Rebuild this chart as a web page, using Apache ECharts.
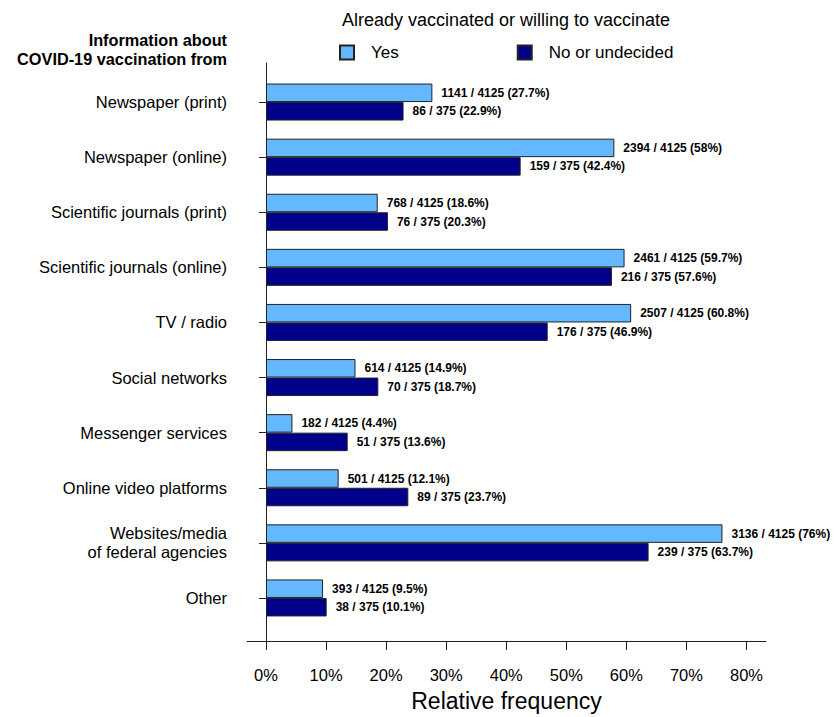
<!DOCTYPE html>
<html lang="en">
<head>
<meta charset="UTF-8">
<title>COVID-19 vaccination information sources</title>
<script src="https://cdn.jsdelivr.net/npm/echarts@6/dist/echarts.min.js"></script>
<style>
  html, body { margin: 0; padding: 0; background: #fff; }
  #chart { width: 834px; height: 717px; }
</style>
</head>
<body>
<div id="chart"></div>
<script>
// information sources, top to bottom
var sources = ['Newspaper (print)', 'Newspaper (online)', 'Scientific journals (print)',
    'Scientific journals (online)', 'TV / radio', 'Social networks', 'Messenger services',
    'Online video platforms', 'Websites/media\nof federal agencies', 'Other'];

// already vaccinated or willing (n = 4125)
var yesTotal = 4125;
var yesCounts = [1141, 2394, 768, 2461, 2507, 614, 182, 501, 3136, 393];
var yesPct = [27.7, 58, 18.6, 59.7, 60.8, 14.9, 4.4, 12.1, 76, 9.5];

// no or undecided (n = 375)
var noTotal = 375;
var noCounts = [86, 159, 76, 216, 176, 70, 51, 89, 239, 38];
var noPct = [22.9, 42.4, 20.3, 57.6, 46.9, 18.7, 13.6, 23.7, 63.7, 10.1];

var xTicks = [0, 10, 20, 30, 40, 50, 60, 70, 80];

var font = 'Liberation Sans, Arial, sans-serif';
var xMin = -3.163, xMax = 83.25;

var chart = echarts.init(document.getElementById('chart'), null, {renderer: 'svg'});

chart.setOption({
    animation: false,
    backgroundColor: '#fff',
    textStyle: {fontFamily: font},
    title: [
        {
            text: 'Information about\nCOVID-19 vaccination from',
            left: 222, top: 25,
            textAlign: 'right',
            textStyle: {fontFamily: font, fontSize: 16.3, fontWeight: 'bold', color: '#000', lineHeight: 19}
        },
        {
            text: 'Already vaccinated or willing to vaccinate',
            left: 501, top: 6,
            textAlign: 'center',
            textStyle: {fontFamily: font, fontSize: 18, fontWeight: 'normal', color: '#000'}
        }
    ],
    legend: {
        left: 334, top: 39,
        itemWidth: 14, itemHeight: 14,
        itemGap: 118,
        icon: 'rect',
        data: ['Yes', 'No or undecided'],
        textStyle: {fontFamily: font, fontSize: 17, color: '#000', padding: [0, 0, 0, 12]}
    },
    grid: [
        // bars
        {left: 247, width: 519, top: 74.5, height: 551, containLabel: false},
        // frame (axis lines)
        {left: 247, width: 519, top: 63, height: 584, containLabel: false}
    ],
    xAxis: [
        {gridIndex: 0, type: 'value', min: xMin, max: xMax, show: false},
        {
            gridIndex: 1, type: 'value', min: xMin, max: xMax,
            axisLine: {show: true, lineStyle: {color: '#222', width: 1}},
            axisTick: {show: true, customValues: xTicks, length: 9, lineStyle: {color: '#222'}},
            axisLabel: {
                customValues: xTicks, margin: 25,
                fontFamily: font, fontSize: 16.5, color: '#000',
                formatter: '{value}%'
            },
            splitLine: {show: false},
            name: 'Relative frequency',
            nameLocation: 'middle',
            nameGap: 48,
            nameTextStyle: {fontFamily: font, fontSize: 23, color: '#000'}
        }
    ],
    yAxis: [
        {
            gridIndex: 0, type: 'category', inverse: true, data: sources,
            offset: 4,
            axisLine: {show: false},
            axisTick: {show: true, alignWithLabel: true, length: 7, lineStyle: {color: '#222'}},
            axisLabel: {fontFamily: font, fontSize: 16.5, color: '#000', margin: 16, lineHeight: 19, align: 'right'}
        },
        {
            gridIndex: 1, type: 'value', min: 0, max: 1,
            axisLine: {show: true, lineStyle: {color: '#222', width: 1}},
            axisTick: {show: false},
            axisLabel: {show: false},
            splitLine: {show: false}
        }
    ],
    series: [
        {
            name: 'Yes', type: 'bar',
            xAxisIndex: 0, yAxisIndex: 0,
            data: yesPct,
            barWidth: 18.5, barGap: '0%',
            itemStyle: {color: '#63B8FF', borderColor: '#222', borderWidth: 1},
            label: {
                show: true, position: 'right', distance: 9,
                fontFamily: font, fontSize: 12, fontWeight: 'bold', color: '#000',
                formatter: function (p) {
                    return yesCounts[p.dataIndex] + ' / ' + yesTotal + ' (' + yesPct[p.dataIndex] + '%)';
                }
            }
        },
        {
            name: 'No or undecided', type: 'bar',
            xAxisIndex: 0, yAxisIndex: 0,
            data: noPct,
            barWidth: 18.5, barGap: '0%',
            itemStyle: {color: '#00008B', borderColor: '#222', borderWidth: 1},
            label: {
                show: true, position: 'right', distance: 9,
                fontFamily: font, fontSize: 12, fontWeight: 'bold', color: '#000',
                formatter: function (p) {
                    return noCounts[p.dataIndex] + ' / ' + noTotal + ' (' + noPct[p.dataIndex] + '%)';
                }
            }
        }
    ]
});
</script>
</body>
</html>
